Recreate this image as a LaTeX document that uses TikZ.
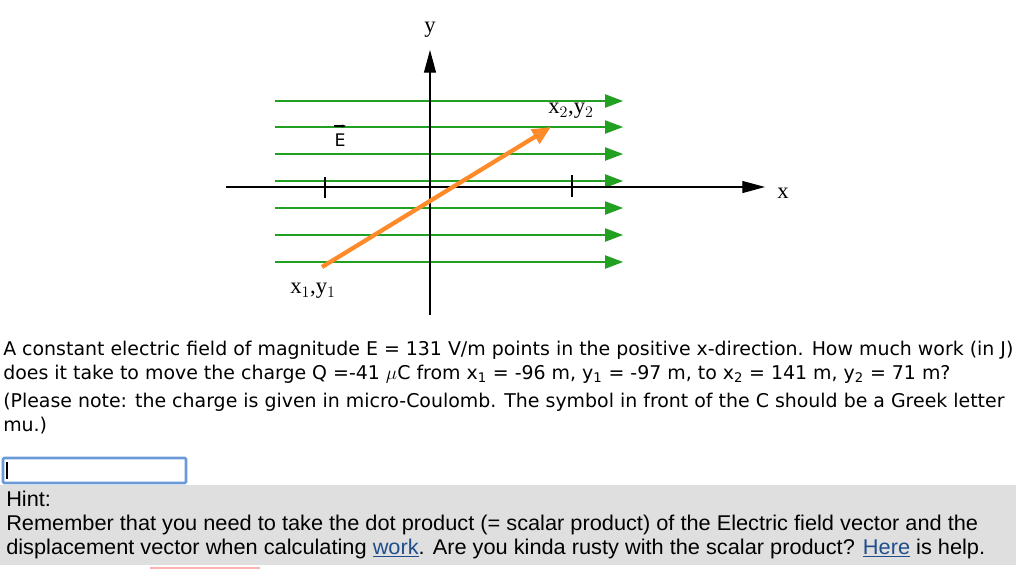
\documentclass[tikz,border=0pt]{standalone}
\usepackage{fontspec}
\setmainfont{DejaVu Sans}
\newfontfamily\serif{Liberation Serif}
\newfontfamily\narrow{Liberation Sans}
\usetikzlibrary{arrows.meta}
\definecolor{fgreen}{HTML}{22A022}
\definecolor{forange}{HTML}{FF8A2A}
\definecolor{linkc}{HTML}{1F4E8C}
\tikzset{
  fline/.style={fgreen,line width=1pt,-{Triangle[length=13.5pt,width=10pt]}},
  txt/.style={anchor=base west,inner sep=0pt,font=\fontsize{14.2}{16}\selectfont},
  hint/.style={anchor=base west,inner sep=0pt,font=\narrow\fontsize{16}{18}\selectfont,xscale=1.02},
  lbl/.style={inner sep=0pt,font=\serif\fontsize{17}{18}\selectfont}
}
\begin{document}
\begin{tikzpicture}[x=0.75pt,y=-0.75pt]
\useasboundingbox (0,0) rectangle (1024,569);
\fill[white] (0,0) rectangle (1024,569);
% field lines
\foreach \yy/\n in {101/a,127/b,154/c,181/d,208/e,235/f,262/g}{
  \coordinate (s\n) at (275,\yy); \coordinate (t\n) at (623,\yy);
  \draw[fline] (s\n) -- (t\n);
}
% axes
\coordinate (xa) at (226,187); \coordinate (xb) at (765,187);
\coordinate (ya) at (430,315); \coordinate (yb) at (430,50);
\draw[line width=0.8pt,-{Triangle[length=17pt,width=9pt]}] (xa) -- (xb);
\draw[line width=0.8pt,-{Triangle[length=17pt,width=9pt]}] (ya) -- (yb);
\coordinate (k1) at (325,177); \coordinate (k2) at (325,198);
\coordinate (k3) at (572,175); \coordinate (k4) at (572,197);
\draw[line width=0.8pt] (k1) -- (k2) (k3) -- (k4);
% displacement
\coordinate (p1) at (322,267); \coordinate (p2) at (551,127);
\draw[forange,line width=3.2pt,-{Triangle[length=14pt,width=12pt]}] (p1) -- (p2);
\node[lbl] (ylab) at (430,30) {y};
\node[lbl] (xlab) at (783,193) {x};
\node[inner sep=0pt,font=\fontsize{13}{14}\selectfont] (E) at (340,140) {E};
\coordinate (ea) at (334,126); \coordinate (eb) at (346,126);
\draw[line width=0.9pt,-{Stealth[length=3pt]}] (ea) -- (eb);
\node[lbl] (x2) at (571,111) {x$_2$,y$_2$};
\node[lbl] (x1) at (313,291) {x$_1$,y$_1$};
% question text
\node[txt] (l1) at (3,355) {A constant electric field of magnitude E = 131 V/m points in the positive x-direction. How much work (in J)};
\node[txt] (l2) at (3,379) {does it take to move the charge Q =-41 $\mu$C from x\textsubscript{1} = -96 m, y\textsubscript{1} = -97 m, to x\textsubscript{2} = 141 m, y\textsubscript{2} = 71 m?};
\node[txt] (l3) at (3,407) {(Please note: the charge is given in micro-Coulomb. The symbol in front of the C should be a Greek letter};
\node[txt] (l4) at (3,431) {mu.)};
% input box
\draw[draw=cyan!50!blue!60,line width=2pt,fill=white,rounded corners=1pt] (3,458) rectangle (186,483);
\draw[line width=0.8pt] (7,462) -- (7,479);
% hint box
\fill[gray!25] (0,485) rectangle (1016,565);
\node[hint] (h1) at (6,506) {Hint:};
\node[hint] (h2) at (6,530) {Remember that you need to take the dot product (= scalar product) of the Electric field vector and the};
\node[hint] (h3) at (6,554) {displacement vector when calculating \textcolor{linkc}{\underline{work}}. Are you kinda rusty with the scalar product? \textcolor{linkc}{\underline{Here}} is help.};
\draw[red!30,line width=1.5pt] (150,568) -- (260,568);
\end{tikzpicture}
\end{document}
